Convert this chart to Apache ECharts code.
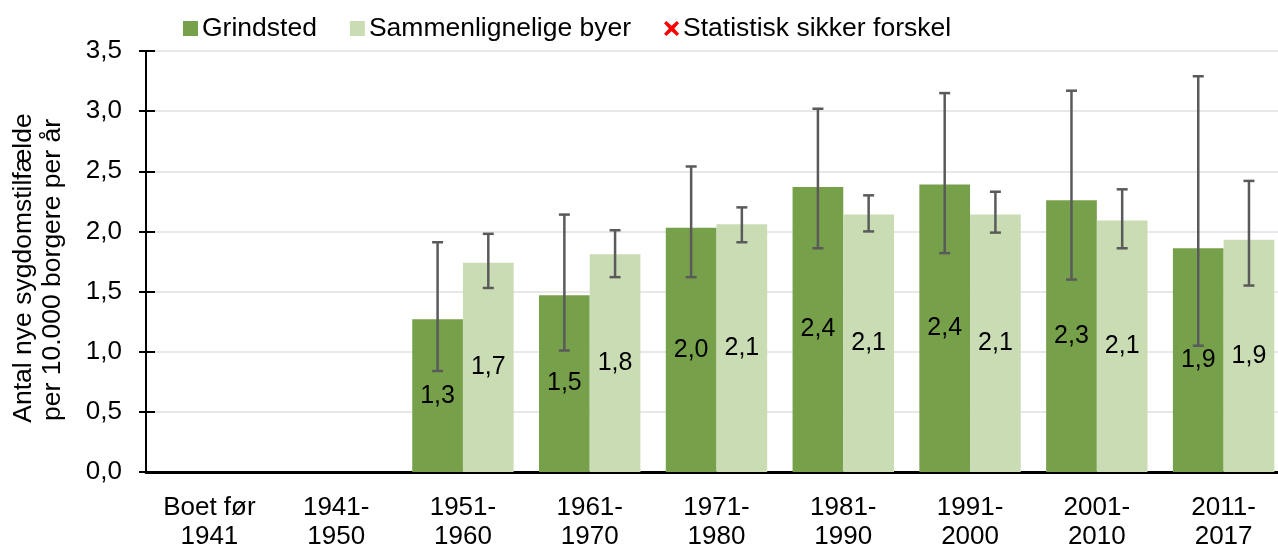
<!DOCTYPE html>
<html>
<head>
<meta charset="utf-8">
<script src="https://cdn.jsdelivr.net/npm/echarts@6/dist/echarts.min.js"></script>
<style>
html, body { margin: 0; padding: 0; background: #fff; }
#chart { width: 1278px; height: 545px; }
</style>
</head>
<body>
<div id="chart"></div>
<script>
// data
var categories = ['Boet før\n1941', '1941-\n1950', '1951-\n1960', '1961-\n1970', '1971-\n1980', '1981-\n1990', '1991-\n2000', '2001-\n2010', '2011-\n2017'];
var grindsted = [null, null, 1.27, 1.47, 2.03, 2.37, 2.39, 2.26, 1.86];
var grindstedLow = [null, null, 0.84, 1.01, 1.62, 1.86, 1.82, 1.60, 1.05];
var grindstedHigh = [null, null, 1.91, 2.14, 2.54, 3.02, 3.15, 3.17, 3.29];
var sammen = [null, null, 1.74, 1.81, 2.06, 2.14, 2.14, 2.09, 1.93];
var sammenLow = [null, null, 1.53, 1.62, 1.91, 2.00, 1.99, 1.86, 1.55];
var sammenHigh = [null, null, 1.98, 2.01, 2.20, 2.30, 2.33, 2.35, 2.42];
var yTicks = [0, 0.5, 1, 1.5, 2, 2.5, 3, 3.5];
var yTitle = ['Antal nye sygdomstilfælde', 'per 10.000 borgere per år'];

function komma(v) {
	return v.toFixed(1).replace('.', ',');
}

function errData(low, high) {
	var out = [];
	for (var i = 0; i < low.length; i++) {
		if (low[i] != null) out.push([i, low[i], high[i]]);
	}
	return out;
}

// side: -1 venstre soejle, 1 hoejre soejle
function errRender(side) {
	return function (params, api) {
		var idx = api.value(0);
		var pLo = api.coord([idx, api.value(1)]);
		var pHi = api.coord([idx, api.value(2)]);
		var band = api.size([1, 0])[0];
		var x = pLo[0] + side * band * 0.2;
		var cap = 5.5;
		var style = { stroke: '#5a5a5a', lineWidth: 2.5 };
		return {
			type: 'group',
			children: [
				{ type: 'line', shape: { x1: x, y1: pHi[1], x2: x, y2: pLo[1] }, style: style },
				{ type: 'line', shape: { x1: x - cap, y1: pHi[1], x2: x + cap, y2: pHi[1] }, style: style },
				{ type: 'line', shape: { x1: x - cap, y1: pLo[1], x2: x + cap, y2: pLo[1] }, style: style }
			]
		};
	};
}

var dom = document.getElementById('chart');
var myChart = echarts.init(dom);
var option = {
	animation: false,
	textStyle: { fontFamily: 'Liberation Sans' },
	legend: {
		left: 178,
		top: 10,
		itemWidth: 15,
		itemHeight: 15,
		itemGap: 33,
		textStyle: { fontSize: 26.5, color: '#000', padding: [0, 0, 0, -1] },
		data: [
			{ name: 'Grindsted', icon: 'rect' },
			{ name: 'Sammenlignelige byer', icon: 'rect' },
			{ name: 'Statistisk sikker forskel', icon: 'path://M1.5,0 L5,3.2 L8.5,0 L10,1.5 L6.8,5 L10,8.5 L8.5,10 L5,6.8 L1.5,10 L0,8.5 L3.2,5 L0,1.5 Z' }
		]
	},
	graphic: [{
		type: 'text',
		x: 24, y: 268,
		rotation: Math.PI / 2,
		style: { text: yTitle[0], font: '26.5px "Liberation Sans"', fill: '#000', align: 'center', verticalAlign: 'middle' }
	}, {
		type: 'text',
		x: 53, y: 270,
		rotation: Math.PI / 2,
		style: { text: yTitle[1], font: '26.5px "Liberation Sans"', fill: '#000', align: 'center', verticalAlign: 'middle' }
	}],
	grid: {
		left: 146,
		width: 1141,
		top: 51,
		bottom: 73,
		outerBoundsMode: 'none',
		containLabel: false
	},
	xAxis: {
		type: 'category',
		data: categories,
		axisTick: { show: false },
		axisLine: { lineStyle: { color: '#000', width: 3 } },
		axisLabel: {
			interval: 0,
			margin: 21,
			color: '#000',
			fontSize: 26,
			lineHeight: 29
		}
	},
	yAxis: [{
		type: 'value',
		min: yTicks[0],
		max: yTicks[yTicks.length - 1],
		interval: 0.5,
		axisLine: { show: true, lineStyle: { color: '#000', width: 2 } },
		axisTick: { show: true, length: 7, lineStyle: { color: '#000', width: 2 } },
		axisLabel: {
			margin: 24,
			color: '#000',
			fontSize: 26,
			formatter: komma
		},
		splitLine: { lineStyle: { color: '#e8e8e8', width: 2 } }
	}, {
		// krydsende ticks ind i plottet
		type: 'value',
		position: 'left',
		min: yTicks[0],
		max: yTicks[yTicks.length - 1],
		interval: 0.5,
		axisLine: { show: false },
		axisTick: { show: true, inside: true, length: 9, lineStyle: { color: '#000', width: 2 } },
		axisLabel: { show: false },
		splitLine: { show: false }
	}],
	series: [{
		name: 'Grindsted',
		type: 'bar',
		data: grindsted,
		barGap: '0%',
		barCategoryGap: '20%',
		itemStyle: { color: '#77a04b' },
		label: {
			show: true,
			position: 'inside',
			color: '#000',
			fontSize: 25,
			formatter: function (p) { return komma(p.value); }
		}
	}, {
		name: 'Sammenlignelige byer',
		type: 'bar',
		data: sammen,
		barGap: '0%',
		barCategoryGap: '20%',
		itemStyle: { color: '#c9dcb4' },
		label: {
			show: true,
			position: 'inside',
			color: '#000',
			fontSize: 25,
			formatter: function (p) { return komma(p.value); }
		}
	}, {
		name: 'Statistisk sikker forskel',
		type: 'scatter',
		data: [],
		itemStyle: { color: '#ff0000', opacity: 1 }
	}, {
		type: 'custom',
		renderItem: errRender(-1),
		data: errData(grindstedLow, grindstedHigh),
		z: 10
	}, {
		type: 'custom',
		renderItem: errRender(1),
		data: errData(sammenLow, sammenHigh),
		z: 10
	}]
};
if (option && typeof option === "object") {
	myChart.setOption(option, true);
}
</script>
</body>
</html>
